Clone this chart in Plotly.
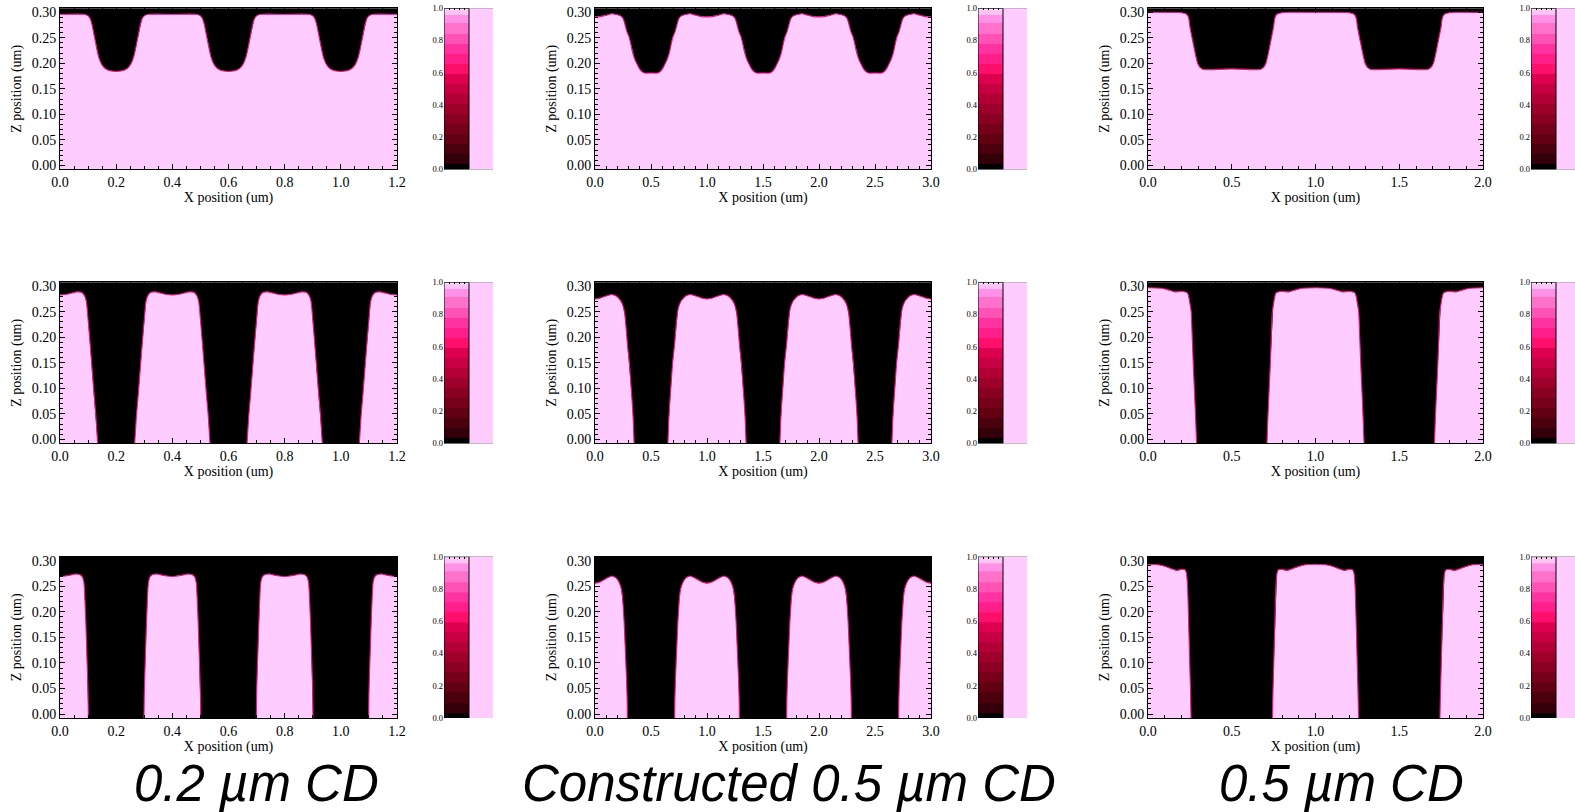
import plotly.graph_objects as go

W, H = 1575, 812

# ---------------- data ----------------
col_titles = ["0.2 \u00b5m CD", "Constructed 0.5 \u00b5m CD", "0.5 \u00b5m CD"]
x_ranges = [(0.0, 1.2), (0.0, 3.0), (0.0, 2.0)]
x_dticks = [0.2, 0.5, 0.5]
x_minor = [0.05, 0.1, 0.1]
line_centers = [[0.0, 0.4, 0.8, 1.2], [0.0, 1.0, 2.0, 3.0], [0.0, 1.0, 2.0]]
z_range = (-0.0078, 0.3078)
z_dtick = 0.05
cb_ticks = [0.0, 0.2, 0.4, 0.6, 0.8, 1.0]
cb_edges = [0.0, 0.0625, 0.125, 0.1875, 0.25, 0.3125, 0.375, 0.4375, 0.5,
            0.5625, 0.625, 0.6875, 0.75, 0.8125, 0.875, 0.9375, 0.983, 1.0]

# half resist-line profiles: (distance from line centre [um], resist height [um])
prof_r1c1 = [(0, 0.296), (0.085, 0.296), (0.1, 0.293), (0.108, 0.287), (0.114, 0.276),
             (0.119, 0.262), (0.124, 0.248), (0.131, 0.228), (0.139, 0.21), (0.148, 0.198),
             (0.16, 0.19), (0.174, 0.186), (0.2, 0.184)]
prof_r1c2 = [(0, 0.291), (0.06, 0.292), (0.1, 0.294), (0.15, 0.297), (0.2, 0.295),
             (0.235, 0.292), (0.253, 0.287), (0.268, 0.276), (0.285, 0.262), (0.307, 0.25),
             (0.322, 0.235), (0.337, 0.22), (0.355, 0.208), (0.372, 0.2), (0.395, 0.19),
             (0.417, 0.184), (0.44, 0.181), (0.5, 0.181)]
prof_r1c3 = [(0, 0.3), (0.16, 0.3), (0.2, 0.299), (0.225, 0.297), (0.238, 0.293),
             (0.245, 0.285), (0.25, 0.272), (0.258, 0.258), (0.266, 0.245), (0.272, 0.235),
             (0.28, 0.222), (0.288, 0.21), (0.296, 0.2), (0.31, 0.192), (0.33, 0.188),
             (0.5, 0.189)]
prof_r2c1 = [(0, 0.283), (0.03, 0.285), (0.06, 0.289), (0.078, 0.288), (0.088, 0.281),
             (0.094, 0.27), (0.097, 0.255), (0.1, 0.235), (0.107, 0.19), (0.114, 0.14),
             (0.121, 0.09), (0.128, 0.045), (0.134, 0.0), (0.2, 0.0)]
prof_r2c2 = [(0, 0.275), (0.05, 0.277), (0.1, 0.281), (0.15, 0.284), (0.19, 0.281),
             (0.225, 0.273), (0.245, 0.265), (0.258, 0.255), (0.266, 0.245), (0.277, 0.22),
             (0.29, 0.185), (0.307, 0.15), (0.32, 0.11), (0.333, 0.07), (0.342, 0.035),
             (0.349, 0.0), (0.5, 0.0)]
prof_r2c3 = [(0, 0.297), (0.08, 0.296), (0.12, 0.293), (0.16, 0.289), (0.2, 0.29),
             (0.232, 0.288), (0.24, 0.284), (0.246, 0.275), (0.252, 0.263), (0.258, 0.25),
             (0.264, 0.2), (0.271, 0.14), (0.278, 0.09), (0.284, 0.045), (0.29, 0.0), (0.5, 0.0)]
prof_r3c1 = [(0, 0.269), (0.03, 0.271), (0.055, 0.274), (0.07, 0.273), (0.08, 0.268),
             (0.085, 0.258), (0.087, 0.245), (0.089, 0.22), (0.092, 0.18), (0.095, 0.13),
             (0.098, 0.08), (0.1, 0.04), (0.101, 0.0), (0.2, 0.0)]
prof_r3c2 = [(0, 0.256), (0.05, 0.259), (0.1, 0.265), (0.15, 0.27), (0.19, 0.266),
             (0.215, 0.258), (0.235, 0.245), (0.245, 0.23), (0.252, 0.21), (0.26, 0.18),
             (0.268, 0.14), (0.276, 0.1), (0.283, 0.06), (0.287, 0.03), (0.289, 0.0), (0.5, 0.0)]
prof_r3c3 = [(0, 0.293), (0.06, 0.292), (0.1, 0.289), (0.14, 0.284), (0.17, 0.281),
             (0.2, 0.283), (0.222, 0.282), (0.23, 0.275), (0.234, 0.262), (0.237, 0.245),
             (0.241, 0.2), (0.246, 0.14), (0.25, 0.09), (0.254, 0.045), (0.257, 0.0), (0.5, 0.0)]

profiles = [[prof_r1c1, prof_r1c2, prof_r1c3],
            [prof_r2c1, prof_r2c2, prof_r2c3],
            [prof_r3c1, prof_r3c2, prof_r3c3]]

# ---------------- styles / layout geometry ----------------
RESIST = "#ffccff"
EDGE = "#e8187c"
cb_colors = ["#000000", "#33000a", "#4b000e", "#620012", "#76001a", "#8a0022",
             "#9e002c", "#b20036", "#c60042", "#dc004e", "#ff0f6c", "#ff1e8a",
             "#ff32a2", "#ff52b6", "#ff72cc", "#ff92e6", "#ffc4f6", "#ffe8ff"]
STRIP = RESIST

col_plot_px = [(60, 397), (595, 931), (1148, 1483)]
col_cb_px = [(444, 493), (978, 1027), (1531, 1575)]
CB_BAR_PX = 25
row_px = [(8.3, 169.3), (282.3, 443.3), (556.7, 718.0)]
SERIF = "Liberation Serif"


def xdom(a, b):
    return [a / W, b / W]


def ydom(t, b):
    return [1 - b / H, 1 - t / H]


def ax(name, n):
    return name if n == 1 else f"{name}{n}"


fig = go.Figure()
layout = {}
shapes = []
ylo = z_range[0]

palette = cb_colors + [STRIP]
cscale = []
for i, c in enumerate(palette):
    cscale.append([i / len(palette), c])
    cscale.append([(i + 1) / len(palette), c])

for r in range(3):
    for c in range(3):
        n = r * 3 + c + 1
        xa, ya = ax("x", n), ax("y", n)
        prof = profiles[r][c]
        # polygon of resist
        px, py = [], []
        for cen in line_centers[c]:
            for dx, y in reversed(prof):
                px.append(cen - dx)
                py.append(y if y > 0 else ylo)
            for dx, y in prof[1:]:
                px.append(cen + dx)
                py.append(y if y > 0 else ylo)
        px_poly = px + [px[-1], px[0]]
        py_poly = py + [ylo, ylo]
        fig.add_trace(go.Scatter(x=px_poly, y=py_poly, mode="lines", fill="toself",
                                 fillcolor=RESIST, line=dict(width=0),
                                 hoverinfo="skip", showlegend=False, xaxis=xa, yaxis=ya))
        # edge lines
        lx, ly = [], []
        for cen in line_centers[c]:
            right = []
            for dx, y in prof:
                right.append((dx, y))
                if y <= 0:
                    break
            for dx, y in reversed(right):
                lx.append(cen - dx)
                ly.append(y if y > 0 else ylo)
            for dx, y in right[1:]:
                lx.append(cen + dx)
                ly.append(y if y > 0 else ylo)
            lx.append(None)
            ly.append(None)
        fig.add_trace(go.Scatter(x=lx, y=ly, mode="lines",
                                 line=dict(color=EDGE, width=1.1, shape="spline", smoothing=0.6),
                                 hoverinfo="skip", showlegend=False, xaxis=xa, yaxis=ya))

        a, b = col_plot_px[c]
        t, bt = row_px[r]
        fnt = dict(family=SERIF, size=14, color="black")
        layout[ax("xaxis", n)] = dict(
            domain=xdom(a, b), anchor=ya, range=list(x_ranges[c]), automargin=False,
            tick0=0, dtick=x_dticks[c], tickformat=".1f",
            ticks="inside", ticklen=5, tickwidth=1, tickcolor="black",
            minor=dict(ticks="inside", ticklen=3, dtick=x_minor[c], tick0=0, tickcolor="black"),
            mirror="allticks", showline=True, linecolor="black", linewidth=1,
            showgrid=False, zeroline=False, tickfont=fnt,
            title=dict(text="X position (um)", font=fnt, standoff=0),
        )
        layout[ax("yaxis", n)] = dict(
            domain=ydom(t, bt), anchor=xa, range=list(z_range), automargin=False,
            tick0=0, dtick=z_dtick, tickformat=".2f",
            ticks="inside", ticklen=5, tickwidth=1, tickcolor="black",
            minor=dict(ticks="inside", ticklen=3, dtick=0.01, tick0=0, tickcolor="black"),
            mirror="allticks", showline=True, linecolor="black", linewidth=1,
            showgrid=False, zeroline=False, tickfont=fnt,
            title=dict(text="Z position (um)", font=fnt, standoff=6),
        )

        # colour bar panel
        m = n + 9
        cxa, cya = ax("x", m), ax("y", m)
        ca, cb = col_cb_px[c]
        xr = (cb - ca) / CB_BAR_PX
        zz = [[i, len(cb_colors)] for i in range(len(cb_colors))]
        fig.add_trace(go.Heatmap(z=zz, x=[0, 1, 2], y=cb_edges, colorscale=cscale,
                                 zmin=-0.5, zmax=len(palette) - 0.5, showscale=False,
                                 hoverinfo="skip", xaxis=cxa, yaxis=cya))
        layout[ax("xaxis", m)] = dict(
            domain=xdom(ca, cb), anchor=cya, range=[0, xr], side="top", automargin=False,
            tickvals=[0.2, 0.4, 0.6, 0.8], ticks="inside", ticklen=2, tickcolor="black",
            showticklabels=False, showline=False, showgrid=False, zeroline=False)
        layout[ax("yaxis", m)] = dict(
            domain=ydom(t, bt), anchor=cxa, range=[0, 1], automargin=False,
            tickvals=cb_ticks, tickformat=".1f", ticks="", showline=False,
            showgrid=False, zeroline=False,
            tickfont=dict(family=SERIF, size=8.5, color="#000000"))
        shapes.append(dict(type="rect", xref=cxa, yref=cya, x0=0, x1=1, y0=0, y1=1,
                           line=dict(color="black", width=1), layer="above"))

title_x_px = [256, 789, 1341]
annotations = []
for c in range(3):
    annotations.append(dict(text=col_titles[c], x=title_x_px[c] / W, y=1 - 783 / H,
                            xref="paper", yref="paper", showarrow=False,
                            xanchor="center", yanchor="middle",
                            font=dict(family="Liberation Sans", size=51, color="black",
                                      style="italic")))

fig.update_layout(width=W, height=H, margin=dict(l=0, r=0, t=0, b=0),
                  paper_bgcolor="white", plot_bgcolor="black",
                  shapes=shapes, annotations=annotations, **layout)
fig.write_html("out.html", config={"displayModeBar": False},
               post_script="document.body.style.margin='0';document.body.style.overflow='hidden';")
